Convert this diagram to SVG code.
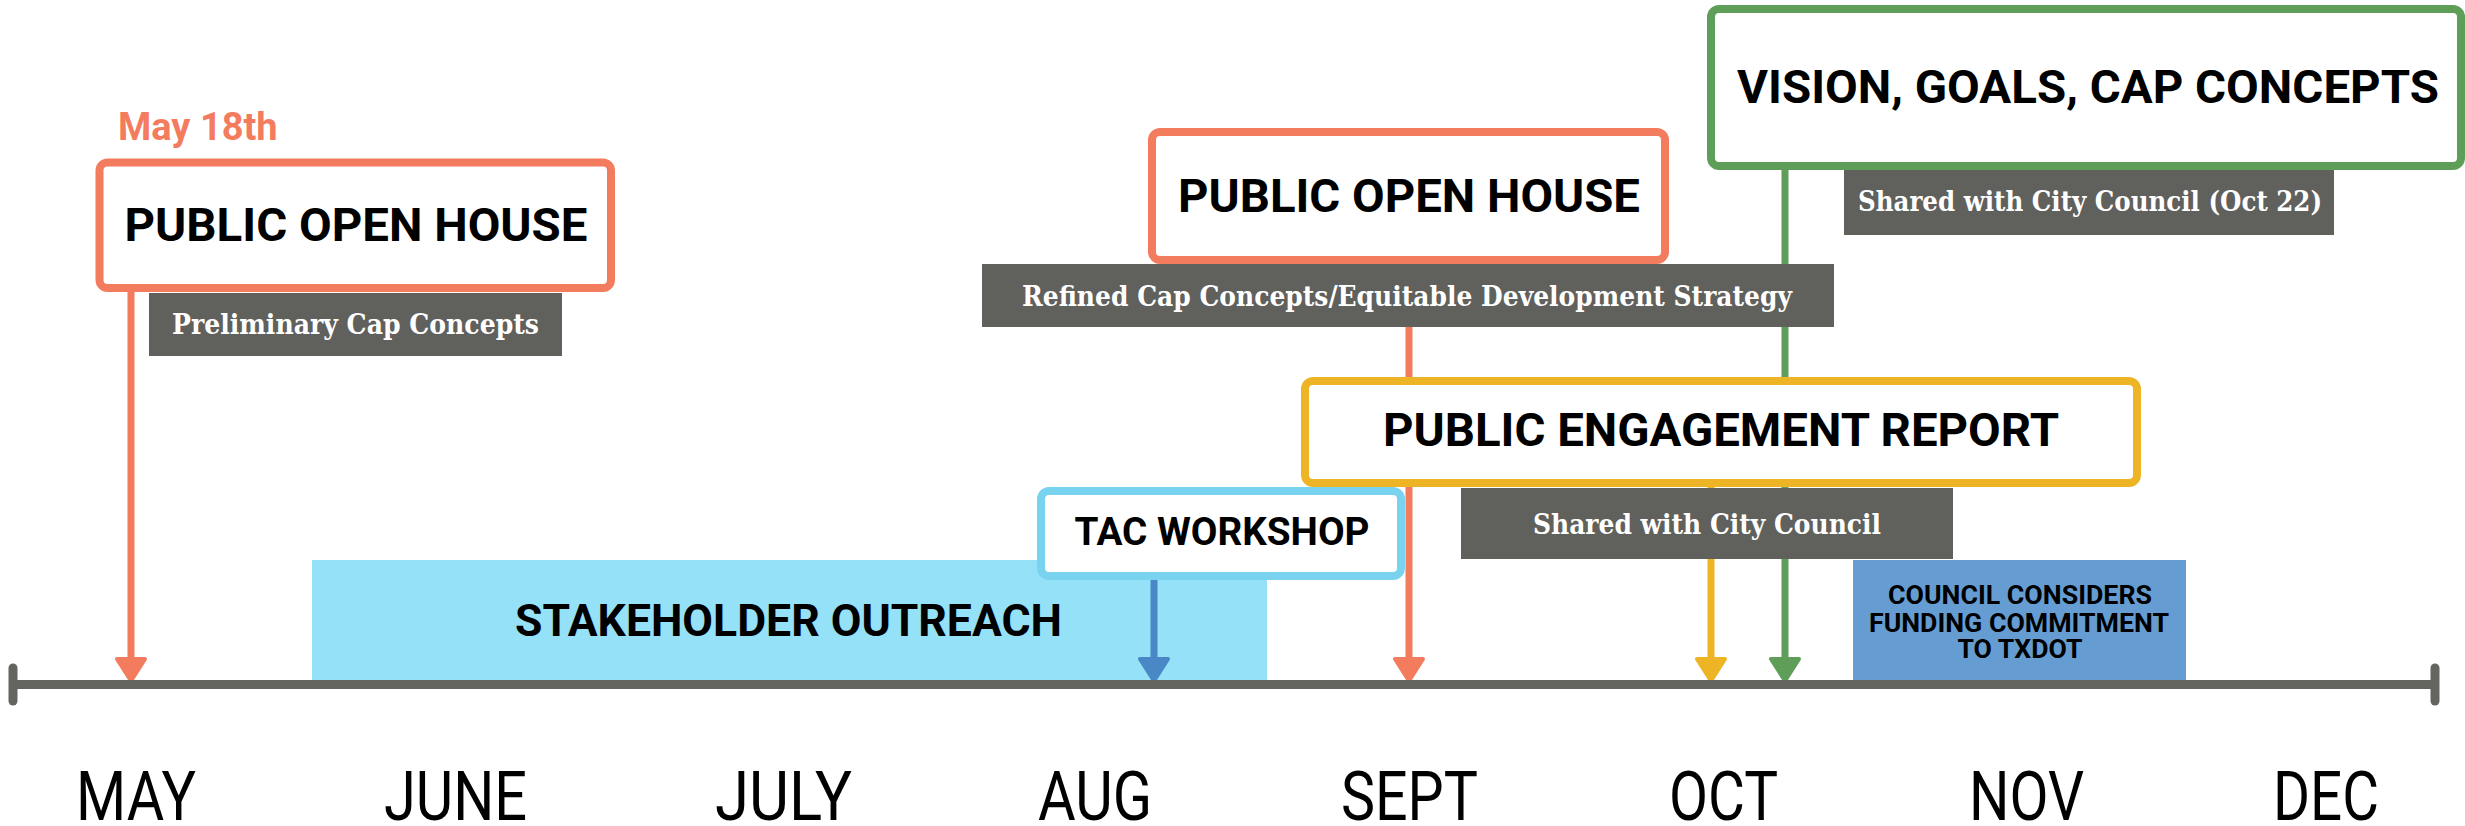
<svg xmlns="http://www.w3.org/2000/svg" width="2465" height="826" viewBox="0 0 2465 826">
<style>
.title{font-family:Roboto,"Liberation Sans",sans-serif;font-weight:700;fill:#000;text-anchor:middle}
.note{font-family:"DejaVu Serif","Liberation Serif",serif;font-weight:700;font-size:28px;fill:#fff;text-anchor:middle}
.month{font-family:Roboto,"Liberation Sans",sans-serif;font-weight:400;font-size:68px;fill:#000;text-anchor:middle}
.gray{fill:#60605c}
.conn{fill:none;stroke-width:7}
</style>
<defs>
<marker id="ah-red" markerUnits="userSpaceOnUse" viewBox="0 0 28 34" markerWidth="28" markerHeight="34" refX="9" refY="17" orient="auto"><path d="M3,3 L25,17 L3,31 Z" fill="#f47c5e" stroke="#f47c5e" stroke-width="4" stroke-linejoin="round"/></marker>
<marker id="ah-yellow" markerUnits="userSpaceOnUse" viewBox="0 0 28 34" markerWidth="28" markerHeight="34" refX="9" refY="17" orient="auto"><path d="M3,3 L25,17 L3,31 Z" fill="#edb526" stroke="#edb526" stroke-width="4" stroke-linejoin="round"/></marker>
<marker id="ah-green" markerUnits="userSpaceOnUse" viewBox="0 0 28 34" markerWidth="28" markerHeight="34" refX="9" refY="17" orient="auto"><path d="M3,3 L25,17 L3,31 Z" fill="#5e9e58" stroke="#5e9e58" stroke-width="4" stroke-linejoin="round"/></marker>
<marker id="ah-blue" markerUnits="userSpaceOnUse" viewBox="0 0 28 34" markerWidth="28" markerHeight="34" refX="9" refY="17" orient="auto"><path d="M3,3 L25,17 L3,31 Z" fill="#4a87c6" stroke="#4a87c6" stroke-width="4" stroke-linejoin="round"/></marker>
</defs>
<rect width="2465" height="826" fill="#fff"/>

<g id="stakeholder-outreach">
<rect x="312" y="560" width="955" height="122" fill="#94e1f8"/>
<text class="title" x="788.5" y="636" font-size="45" textLength="547" lengthAdjust="spacingAndGlyphs">STAKEHOLDER OUTREACH</text>
</g>
<g id="council-considers">
<rect x="1853" y="560" width="333" height="122" fill="#659dd3"/>
<text class="title" x="2020" y="604" font-size="25" textLength="264" lengthAdjust="spacingAndGlyphs">COUNCIL CONSIDERS</text>
<text class="title" x="2019" y="632" font-size="25" textLength="300" lengthAdjust="spacingAndGlyphs">FUNDING COMMITMENT</text>
<text class="title" x="2020" y="658" font-size="25" textLength="125" lengthAdjust="spacingAndGlyphs">TO TXDOT</text>
</g>

<g id="connectors">
<line class="conn" x1="131" y1="292" x2="131" y2="665" stroke="#f47c5e" marker-end="url(#ah-red)"/>
<line class="conn" x1="1409" y1="300" x2="1409" y2="665" stroke="#f47c5e" marker-end="url(#ah-red)"/>
<line class="conn" x1="1711" y1="480" x2="1711" y2="665" stroke="#edb526" marker-end="url(#ah-yellow)"/>
<line class="conn" x1="1785" y1="165" x2="1785" y2="665" stroke="#5e9e58" marker-end="url(#ah-green)"/>
<line class="conn" x1="1154" y1="576" x2="1154" y2="665" stroke="#4a87c6" marker-end="url(#ah-blue)"/>
</g>

<g id="timeline">
<line x1="13" y1="684.5" x2="2435" y2="684.5" stroke="#646461" stroke-width="9"/>
<line x1="13" y1="668" x2="13" y2="701" stroke="#646461" stroke-width="9" stroke-linecap="round"/>
<line x1="2435" y1="668" x2="2435" y2="701" stroke="#646461" stroke-width="9" stroke-linecap="round"/>
</g>

<g id="may-open-house">
<text x="118" y="140" font-family="Roboto,'Liberation Sans',sans-serif" font-weight="700" font-size="38" fill="#f47c5e">May 18th</text>
<rect x="99.5" y="162.5" width="511.5" height="125.5" rx="8" fill="#fff" stroke="#f47c5e" stroke-width="8"/>
<text class="title" x="356" y="241" font-size="47" textLength="463" lengthAdjust="spacingAndGlyphs">PUBLIC OPEN HOUSE</text>
<rect class="gray" x="149" y="293" width="413" height="63"/>
<text class="note" x="355.5" y="334" textLength="367" lengthAdjust="spacingAndGlyphs">Preliminary Cap Concepts</text>
</g>

<g id="sept-open-house">
<rect x="1152" y="132" width="513" height="128" rx="8" fill="#fff" stroke="#f47c5e" stroke-width="8"/>
<text class="title" x="1409" y="212" font-size="47" textLength="462" lengthAdjust="spacingAndGlyphs">PUBLIC OPEN HOUSE</text>
<rect class="gray" x="982" y="264" width="852" height="63"/>
<text class="note" x="1407" y="306" textLength="770" lengthAdjust="spacingAndGlyphs">Refined Cap Concepts/Equitable Development Strategy</text>
</g>

<g id="vision-goals">
<rect class="gray" x="1844" y="165" width="490" height="70"/>
<text class="note" x="2090" y="211" textLength="464" lengthAdjust="spacingAndGlyphs">Shared with City Council (Oct 22)</text>
<rect x="1711" y="9" width="750" height="157" rx="8" fill="#fff" stroke="#5e9e58" stroke-width="8"/>
<text class="title" x="2088" y="103" font-size="47" textLength="702" lengthAdjust="spacingAndGlyphs">VISION, GOALS, CAP CONCEPTS</text>
</g>

<g id="engagement-report">
<rect x="1305" y="381" width="832" height="102" rx="8" fill="#fff" stroke="#edb526" stroke-width="8"/>
<text class="title" x="1721" y="446" font-size="47" textLength="676" lengthAdjust="spacingAndGlyphs">PUBLIC ENGAGEMENT REPORT</text>
<rect class="gray" x="1461" y="488" width="492" height="71"/>
<text class="note" x="1707" y="534" textLength="348" lengthAdjust="spacingAndGlyphs">Shared with City Council</text>
</g>

<g id="tac-workshop">
<rect x="1041" y="491" width="360" height="85" rx="8" fill="#fff" stroke="#79d3ee" stroke-width="8"/>
<text class="title" x="1222" y="545" font-size="38" textLength="295" lengthAdjust="spacingAndGlyphs">TAC WORKSHOP</text>
</g>

<g id="months">
<text class="month" x="136" y="820" textLength="120" lengthAdjust="spacingAndGlyphs">MAY</text>
<text class="month" x="455.5" y="820" textLength="143" lengthAdjust="spacingAndGlyphs">JUNE</text>
<text class="month" x="783.5" y="820" textLength="137" lengthAdjust="spacingAndGlyphs">JULY</text>
<text class="month" x="1095" y="820" textLength="114" lengthAdjust="spacingAndGlyphs">AUG</text>
<text class="month" x="1409.5" y="820" textLength="137" lengthAdjust="spacingAndGlyphs">SEPT</text>
<text class="month" x="1723.5" y="820" textLength="109" lengthAdjust="spacingAndGlyphs">OCT</text>
<text class="month" x="2026.5" y="820" textLength="115" lengthAdjust="spacingAndGlyphs">NOV</text>
<text class="month" x="2326" y="820" textLength="106" lengthAdjust="spacingAndGlyphs">DEC</text>
</g>
</svg>
